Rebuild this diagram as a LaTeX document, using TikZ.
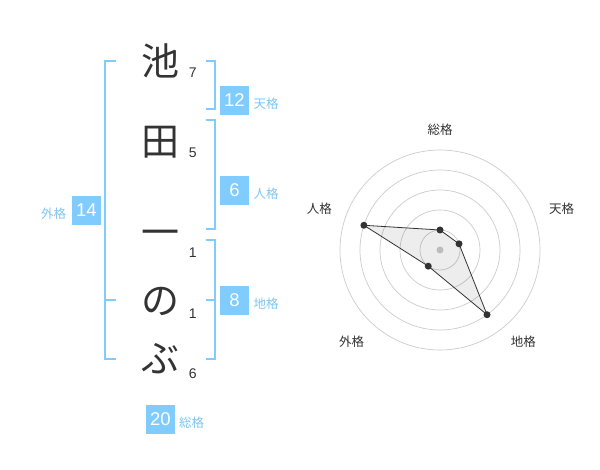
\documentclass[tikz,border=0pt]{standalone}
\usepackage{fontspec}
\setmainfont{Liberation Sans}
\newfontfamily\jp{Noto Sans CJK JP}
\definecolor{skyb}{HTML}{80CCFF}
\definecolor{skyt}{HTML}{7FC6F2}
\definecolor{ink}{HTML}{333333}
\definecolor{gridc}{HTML}{CCCCCC}
\begin{document}
\begin{tikzpicture}[x=1pt,y=-1pt,
  bigch/.style={font=\jp\fontsize{38}{38}\selectfont, text=ink, inner sep=0pt},
  strk/.style={font=\fontsize{14}{14}\selectfont, text=ink, inner sep=0pt},
  valbox/.style={fill=skyb, text=white, minimum size=29pt, inner sep=0pt, font=\fontsize{18.5}{18.5}\selectfont},
  kaku/.style={font=\jp\fontsize{12.5}{12.5}\selectfont, text=skyt, inner sep=0pt},
  brk/.style={draw=skyb, line width=2pt},
  rlab/.style={font=\jp\fontsize{12.5}{12.5}\selectfont, text=ink, inner sep=0pt},
  ring/.style={draw=gridc, line width=0.7pt},
  dot/.style={circle, fill=ink, inner sep=0pt, minimum size=7pt},
]
\useasboundingbox (0,0) rectangle (600,470);
\fill[white] (0,0) rectangle (600,470);

% characters
\node[bigch] (c1) at (160,61) {池};
\node[bigch] (c2) at (160,142) {田};
\node[bigch] (c3) at (160,238) {一};
\node[bigch] (c4) at (160,301) {の};
\node[bigch] (c5) at (160,359) {ぶ};
% stroke counts
\node[strk] (s1) at (192.7,72.7) {7};
\node[strk] (s2) at (192.7,152.7) {5};
\node[strk] (s3) at (192.7,252.7) {1};
\node[strk] (s4) at (192.7,313.3) {1};
\node[strk] (s5) at (192.7,374) {6};

% brackets
\draw[brk] (116,61) -- (105,61) -- (105,359.5) -- (116,359.5);
\draw[brk] (105,300) -- (116,300);
\draw[brk] (205.5,61) -- (214.5,61) -- (214.5,109) -- (205.5,109);
\draw[brk] (205.5,120) -- (214.5,120) -- (214.5,229) -- (205.5,229);
\draw[brk] (205.5,240) -- (214.5,240) -- (214.5,359.5) -- (205.5,359.5);
\draw[brk] (205.5,300) -- (214.5,300);

% value boxes
\node[valbox] (ten) at (234.5,100.5) {12};
\node[kaku] (tenl) at (266,104) {天格};
\node[valbox] (jin) at (234.5,190.5) {6};
\node[kaku] (jinl) at (266,194) {人格};
\node[valbox] (chi) at (234.5,300.5) {8};
\node[kaku] (chil) at (266,304) {地格};
\node[valbox] (gai) at (86.5,210.5) {14};
\node[kaku] (gail) at (53.5,213.5) {外格};
\node[valbox] (sou) at (160.5,419.5) {20};
\node[kaku] (soul) at (191.7,422.7) {総格};

% radar
\coordinate (rc) at (440,250);
\begin{scope}[shift={(rc)}, yscale=-1]
  \foreach \r in {20,40,60,80,100} \draw[ring] (0,0) circle[radius=\r pt];
  \fill[gridc] (0,0) circle[radius=3.5pt];
  \coordinate (pS) at (90:20);
  \coordinate (pT) at (18:20);
  \coordinate (pC) at (-54:80);
  \coordinate (pG) at (-126:20);
  \coordinate (pJ) at (162:80);
\end{scope}
\fill[black, fill opacity=0.07] (pS) -- (pT) -- (pC) -- (pG) -- (pJ) -- cycle;
\draw[ink, line width=0.8pt] (pS) -- (pT) -- (pC) -- (pG) -- (pJ) -- cycle;
\foreach \p in {pS,pT,pC,pG,pJ} \node[dot] (d\p) at (\p) {};

\node[rlab] (lS) at (440,130) {総格};
\node[rlab] (lT) at (561.7,208.3) {天格};
\node[rlab] (lJ) at (319.3,208.3) {人格};
\node[rlab] (lG) at (351.7,341.7) {外格};
\node[rlab] (lC) at (523.3,341.7) {地格};
\end{tikzpicture}
\end{document}
